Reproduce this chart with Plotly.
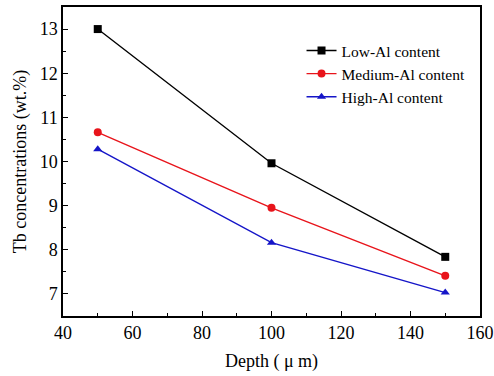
import plotly.graph_objects as go

depth = [50, 100, 150]
low_al = [13.0, 9.96, 7.84]
medium_al = [10.66, 8.95, 7.41]
high_al = [10.28, 8.16, 7.03]

series = [
    ("Low-Al content", low_al, "#000000", "square"),
    ("Medium-Al content", medium_al, "#e8141b", "circle"),
    ("High-Al content", high_al, "#1515c8", "triangle-up"),
]

fig = go.Figure()
for name, vals, color, sym in series:
    fig.add_trace(go.Scatter(
        x=depth, y=vals, name=name, mode="lines+markers",
        line=dict(color=color, width=1.4),
        marker=dict(symbol=sym, size=8, color=color),
    ))

font = "Liberation Serif, Times New Roman, serif"
axis_common = dict(
    showgrid=False, zeroline=False, showline=True, linecolor="black",
    linewidth=1.5, mirror=True, ticks="inside", ticklen=5, tickwidth=1.2,
    tickcolor="black", tickfont=dict(family=font, size=18, color="black"),
    automargin=False,
)
fig.update_xaxes(range=[40, 160], dtick=20,
                 minor=dict(ticks="inside", ticklen=3, dtick=10, tickcolor="black"),
                 title=dict(text="Depth ( μ m)", font=dict(family=font, size=18, color="black"), standoff=12),
                 **axis_common)
fig.update_yaxes(range=[6.5, 13.5], dtick=1,
                 minor=dict(ticks="inside", ticklen=3, dtick=0.5, tickcolor="black"),
                 title=dict(text="Tb concentrations (wt.%)", font=dict(family=font, size=18, color="black"), standoff=8),
                 **axis_common)
fig.update_layout(
    width=494, height=376,
    margin=dict(l=63, r=14, t=7, b=60),
    plot_bgcolor="white", paper_bgcolor="white",
    legend=dict(x=0.572, y=0.913, xanchor="left", yanchor="top",
                font=dict(family=font, size=15.5, color="black"),
                bgcolor="rgba(0,0,0,0)", tracegroupgap=0, itemwidth=30),
    showlegend=True,
)
fig.write_html("out.html")
